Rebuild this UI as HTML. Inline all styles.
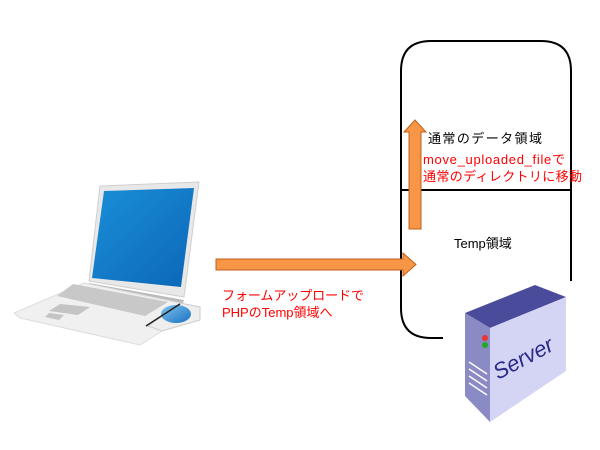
<!DOCTYPE html>
<html><head><meta charset="utf-8"><style>
html,body{margin:0;padding:0;background:#fff;}
svg{display:block;}
text{font-family:"Liberation Sans","Noto Sans CJK JP",sans-serif;font-size:13px;}
</style></head><body>
<svg width="600" height="450" viewBox="0 0 600 450">
<defs>
<linearGradient id="scr" x1="0" y1="0" x2="1" y2="1"><stop offset="0" stop-color="#1a8fd8"/><stop offset="1" stop-color="#0c66b8"/></linearGradient>
<linearGradient id="cd" x1="0" y1="0" x2="1" y2="1"><stop offset="0" stop-color="#7fc4ee"/><stop offset="1" stop-color="#1a70c0"/></linearGradient>
</defs>
<!-- laptop -->
<polygon points="100,186 199,182 184,297 89,281" fill="#e8e8e8" stroke="#cfcfcf"/>
<polygon points="104,191 194,188 181,287 92,278" fill="url(#scr)"/>
<polygon points="89,283 184,300 183,303 89,287" fill="#bbb"/>
<polygon points="84,283 185,304 200,307 140,345 20,318 14,313" fill="#f0f0f0" stroke="#ddd"/>
<polygon points="73,284 168,302 145,316 57,296" fill="#c8c8c8"/>
<polygon points="60,304 90,307 78,315 49,311" fill="#c4c4c4"/>
<polygon points="49,313 64,315 59,320 45,317" fill="#c4c4c4"/>
<polygon points="148,326 180,303 200,307 200,320 162,331" fill="#eee" stroke="#ccc"/>
<ellipse cx="176" cy="314" rx="15" ry="9" fill="url(#cd)"/>
<line x1="146" y1="326" x2="180" y2="304" stroke="#222" stroke-width="1.5"/>
<!-- server container -->
<path d="M443,338 L431,338 Q401,338 401,308 L401,71 Q401,41 431,41 L541,41 Q571,41 571,71 L571,281" fill="none" stroke="#000" stroke-width="2"/>
<line x1="401" y1="190" x2="571" y2="190" stroke="#000" stroke-width="2"/>
<!-- arrows -->
<polygon points="216,259 403,259 403,253 416,264.5 403,276 403,270 216,270" fill="#f79646" stroke="#c0601a" stroke-width="1"/>
<polygon points="409,229 409,132 404,132 415,120 426,132 421,132 421,229" fill="#f79646" stroke="#c0601a" stroke-width="1"/>
<!-- labels -->
<text x="428" y="143" fill="#000" textLength="114">通常のデータ領域</text>
<text x="423" y="164" fill="#f00" textLength="142">move_uploaded_fileで</text>
<text x="423" y="181" fill="#f00" textLength="159">通常のディレクトリに移動</text>
<text x="454" y="248" fill="#000">Temp領域</text>
<text x="222" y="300" fill="#f00" textLength="142">フォームアップロードで</text>
<text x="222" y="317" fill="#f00">PHPのTemp領域へ</text>
<!-- server -->
<polygon points="465,313 535,285 566,297 490,328" fill="#4b4b9c"/>
<polygon points="465,313 490,328 490,422 465,396" fill="#8a8ac4"/>
<polygon points="490,328 566,297 566,371 490,422" fill="#d4d4f4"/>
<circle cx="485" cy="338" r="3" fill="#e33"/>
<circle cx="485" cy="345" r="3" fill="#2a2"/>
<g stroke="#fff" stroke-width="1.5"><line x1="469" y1="362" x2="487" y2="374"/><line x1="469" y1="369" x2="487" y2="381"/><line x1="469" y1="376" x2="487" y2="388"/><line x1="469" y1="383" x2="487" y2="395"/></g>
<text x="498" y="380" fill="#2a2a8a" font-style="italic" style="font-size:22px" transform="rotate(-28 498 380)">Server</text>
</svg>
</body></html>
